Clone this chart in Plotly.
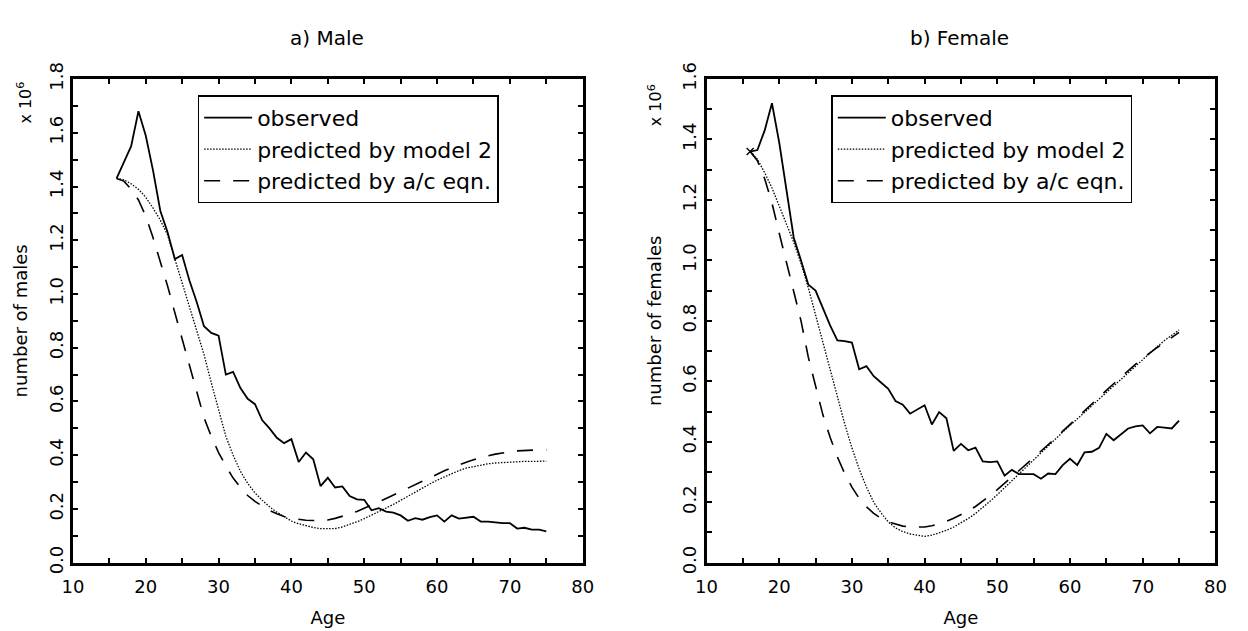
import plotly.graph_objects as go

# ---------------- data ----------------
ages = list(range(16, 76))

male_observed = [1.43, 1.49, 1.55, 1.68, 1.59, 1.46, 1.31, 1.23, 1.13, 1.145,
                 1.05, 0.97, 0.88, 0.855, 0.845, 0.70, 0.71, 0.65, 0.61, 0.59,
                 0.53, 0.50, 0.465, 0.445, 0.46, 0.375, 0.41, 0.385, 0.285, 0.316,
                 0.28, 0.284, 0.248, 0.236, 0.234, 0.195, 0.203, 0.19, 0.186, 0.176,
                 0.156, 0.166, 0.16, 0.17, 0.176, 0.153, 0.176, 0.164, 0.168, 0.171,
                 0.153, 0.153, 0.15, 0.147, 0.147, 0.127, 0.13, 0.123, 0.123, 0.117]

male_model2 = [1.43, 1.425, 1.41, 1.39, 1.36, 1.32, 1.275, 1.22, 1.13, 1.04,
               0.95, 0.865, 0.775, 0.67, 0.565, 0.47, 0.40, 0.34, 0.295, 0.26,
               0.232, 0.208, 0.188, 0.171, 0.155, 0.145, 0.137, 0.131, 0.127, 0.126,
               0.127, 0.133, 0.142, 0.152, 0.164, 0.177, 0.19, 0.203, 0.217, 0.232,
               0.248, 0.263, 0.278, 0.293, 0.307, 0.32, 0.332, 0.343, 0.352, 0.358,
               0.364, 0.368, 0.371, 0.373, 0.375, 0.376, 0.377, 0.377, 0.378, 0.378]

male_ac = [1.43, 1.42, 1.39, 1.35, 1.29, 1.21, 1.12, 1.03, 0.93, 0.83,
           0.735, 0.635, 0.54, 0.47, 0.41, 0.36, 0.315, 0.28, 0.25, 0.228,
           0.21, 0.194, 0.182, 0.172, 0.165, 0.161, 0.158, 0.157, 0.157, 0.159,
           0.165, 0.172, 0.181, 0.191, 0.202, 0.214, 0.226, 0.239, 0.252, 0.265,
           0.279, 0.292, 0.305, 0.318, 0.33, 0.342, 0.353, 0.364, 0.374, 0.383,
           0.391, 0.398, 0.404, 0.409, 0.413, 0.416, 0.418, 0.419, 0.42, 0.42]

female_observed = [1.36, 1.365, 1.43, 1.52, 1.39, 1.24, 1.075, 1.0, 0.92, 0.90,
                   0.84, 0.785, 0.735, 0.733, 0.728, 0.64, 0.65, 0.617, 0.596, 0.575,
                   0.535, 0.523, 0.493, 0.507, 0.521, 0.457, 0.498, 0.478, 0.37, 0.393,
                   0.372, 0.381, 0.335, 0.333, 0.335, 0.288, 0.307, 0.293, 0.294, 0.293,
                   0.278, 0.295, 0.293, 0.323, 0.344, 0.323, 0.365, 0.367, 0.38, 0.426,
                   0.405, 0.426, 0.444, 0.451, 0.454, 0.428, 0.449, 0.447, 0.444, 0.47]

female_model2 = [1.36, 1.335, 1.29, 1.24, 1.18, 1.12, 1.06, 0.99, 0.91, 0.82,
                 0.73, 0.64, 0.55, 0.46, 0.38, 0.31, 0.25, 0.20, 0.165, 0.135,
                 0.115, 0.103, 0.095, 0.09, 0.087, 0.091, 0.098, 0.107, 0.118, 0.131,
                 0.146, 0.163, 0.182, 0.203, 0.225, 0.248, 0.272, 0.296, 0.32, 0.343,
                 0.366, 0.388, 0.41, 0.432, 0.454, 0.476, 0.498, 0.52, 0.542, 0.564,
                 0.586, 0.608, 0.63, 0.652, 0.674, 0.695, 0.715, 0.735, 0.753, 0.77]

female_ac = [1.36, 1.33, 1.27, 1.19, 1.09, 0.99, 0.90, 0.80, 0.68, 0.58,
             0.49, 0.415, 0.35, 0.295, 0.25, 0.213, 0.185, 0.163, 0.147, 0.135,
             0.127, 0.121, 0.118, 0.117, 0.118, 0.122, 0.129, 0.137, 0.147, 0.158,
             0.171, 0.186, 0.203, 0.222, 0.242, 0.262, 0.283, 0.305, 0.326, 0.347,
             0.368, 0.39, 0.412, 0.435, 0.458, 0.48, 0.503, 0.525, 0.547, 0.57,
             0.592, 0.614, 0.636, 0.656, 0.676, 0.695, 0.712, 0.728, 0.745, 0.762]

series_names = ["observed", "predicted by model 2", "predicted by a/c eqn."]
panel_titles = ["a) Male", "b) Female"]
y_titles = ["number of males", "number of females"]
x_title = "Age"
x_ticks = list(range(10, 81, 5))
y_max = [1.8, 1.6]

# ---------------- styling ----------------
FONT = "DejaVu Sans"
W, H = 1248, 631
left_dom = [63 / W, 582 / W]
right_dom = [708 / W, 1226 / W]
y_dom = [1 - 572 / H, 1 - 65 / H]

styles = [
    dict(color="black", width=1.8, dash="solid"),
    dict(color="black", width=1.3, dash="1.5px,1.5px"),
    dict(color="black", width=1.6, dash="16px,13px"),
]

fig = go.Figure()

panels = [
    ("x", "y", "legend", [male_observed, male_model2, male_ac]),
    ("x2", "y2", "legend2", [female_observed, female_model2, female_ac]),
]
for xa, ya, lg, data in panels:
    for name, vals, st in zip(series_names, data, styles):
        fig.add_trace(go.Scatter(
            x=ages, y=vals, mode="lines", name=name, line=st,
            xaxis=xa, yaxis=ya, legend=lg, showlegend=True,
        ))

# small start marker on the female observed curve
fig.add_trace(go.Scatter(
    x=[ages[0]], y=[female_observed[0]], mode="markers",
    marker=dict(symbol="x-thin", size=7, line=dict(color="black", width=1.3)),
    xaxis="x2", yaxis="y2", showlegend=False,
))


def xaxis_cfg(domain, anchor):
    return dict(
        domain=domain, anchor=anchor, range=[10, 80],
        tickvals=x_ticks,
        ticktext=[str(t) if t % 10 == 0 else "" for t in x_ticks],
        ticks="inside", ticklen=5, tickwidth=1.5, tickcolor="black",
        showline=True, linewidth=3, linecolor="black", mirror="ticks",
        showgrid=False, zeroline=False, ticklabelstandoff=6,
        tickfont=dict(size=18, color="black", family=FONT),
        title=dict(text=x_title, font=dict(size=18, color="black", family=FONT), standoff=16),
    )


def yaxis_cfg(domain, anchor, ymax, title):
    n = int(round(ymax * 10))
    vals = [i / 10 for i in range(n + 1)]
    return dict(
        domain=domain, anchor=anchor, range=[0, ymax],
        tickvals=vals,
        ticktext=[f"{v:.1f}" if i % 2 == 0 else "" for i, v in enumerate(vals)],
        tickangle=-90,
        ticks="inside", ticklen=5, tickwidth=1.5, tickcolor="black",
        showline=True, linewidth=3, linecolor="black", mirror="ticks",
        showgrid=False, zeroline=False,
        tickfont=dict(size=18, color="black", family=FONT),
        title=dict(text=title, font=dict(size=18, color="black", family=FONT), standoff=14),
    )


legend_common = dict(
    xanchor="left", yanchor="top", bordercolor="black", borderwidth=1.5,
    bgcolor="white", font=dict(size=22, color="black", family=FONT),
    tracegroupgap=0, itemwidth=48,
)

fig.update_layout(
    width=W, height=H,
    margin=dict(l=0, r=0, t=0, b=0),
    paper_bgcolor="white", plot_bgcolor="white",
    font=dict(family=FONT, color="black"),
    xaxis=xaxis_cfg(left_dom, "y"),
    yaxis=yaxis_cfg(y_dom, "x", y_max[0], y_titles[0]),
    xaxis2=xaxis_cfg(right_dom, "y2"),
    yaxis2=yaxis_cfg(y_dom, "x2", y_max[1], y_titles[1]),
    legend=dict(x=190 / W, y=1 - 82 / H, **legend_common),
    legend2=dict(x=835 / W, y=1 - 82 / H, **legend_common),
    annotations=[
        dict(text=panel_titles[0], x=322 / W, y=1 - 22 / H, xref="paper", yref="paper",
             showarrow=False, font=dict(size=20, family=FONT, color="black"),
             xanchor="center", yanchor="middle"),
        dict(text=panel_titles[1], x=966 / W, y=1 - 22 / H, xref="paper", yref="paper",
             showarrow=False, font=dict(size=20, family=FONT, color="black"),
             xanchor="center", yanchor="middle"),
        dict(text="x 10<sup>6</sup>", x=14 / W, y=1 - 90 / H, xref="paper", yref="paper",
             showarrow=False, textangle=-90, font=dict(size=16, family=FONT, color="black"),
             xanchor="center", yanchor="middle"),
        dict(text="x 10<sup>6</sup>", x=656 / W, y=1 - 92 / H, xref="paper", yref="paper",
             showarrow=False, textangle=-90, font=dict(size=16, family=FONT, color="black"),
             xanchor="center", yanchor="middle"),
    ],
)

fig.write_html("out.html")
